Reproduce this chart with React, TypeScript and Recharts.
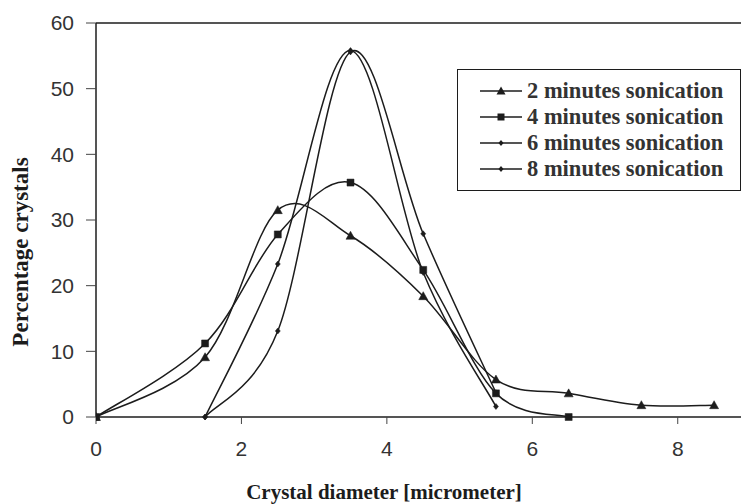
import { LineChart, Line, XAxis, YAxis, Legend, Label, ReferenceLine } from "recharts"

const diameters2 = [0, 1.5, 2.5, 3.5, 4.5, 5.5, 6.5, 7.5, 8.5]
const pct2 = [0, 9.1, 31.5, 27.6, 18.4, 5.7, 3.6, 1.8, 1.8]
const diameters4 = [0, 1.5, 2.5, 3.5, 4.5, 5.5, 6.5]
const pct4 = [0, 11.2, 27.8, 35.7, 22.4, 3.6, 0]
const diameters6 = [1.5, 2.5, 3.5, 4.5, 5.5]
const pct6 = [0, 23.3, 55.8, 22.0, 1.6]
const diameters8 = [1.5, 2.5, 3.5, 4.5, 5.5]
const pct8 = [0, 13.1, 55.6, 27.9, 3.7]

const xTicks = [0, 2, 4, 6, 8]
const yTicks = [0, 10, 20, 30, 40, 50, 60]

type Shape = "triangle" | "square" | "diamond"

const SERIES: { name: string; xs: number[]; ys: number[]; shape: Shape }[] = [
  { name: "2 minutes sonication", xs: diameters2, ys: pct2, shape: "triangle" },
  { name: "4 minutes sonication", xs: diameters4, ys: pct4, shape: "square" },
  { name: "6 minutes sonication", xs: diameters6, ys: pct6, shape: "diamond" },
  { name: "8 minutes sonication", xs: diameters8, ys: pct8, shape: "diamond" },
]

const INK = "#1c1c1c"
const SERIF = "Liberation Serif"
const SANS = "Liberation Sans"

// excel-style smoothed line (cardinal spline, tension 0)
function excelSmooth(context: any) {
  let pts: [number, number][] = []
  return {
    areaStart() {},
    areaEnd() {},
    lineStart() {
      pts = []
    },
    point(x: number, y: number) {
      pts.push([+x, +y])
    },
    lineEnd() {
      const n = pts.length
      if (!n) return
      context.moveTo(pts[0][0], pts[0][1])
      for (let i = 0; i < n - 1; i++) {
        const p0 = pts[i - 1] || pts[i]
        const p1 = pts[i]
        const p2 = pts[i + 1]
        const p3 = pts[i + 2] || p2
        context.bezierCurveTo(
          p1[0] + (p2[0] - p0[0]) / 6,
          p1[1] + (p2[1] - p0[1]) / 6,
          p2[0] - (p3[0] - p1[0]) / 6,
          p2[1] - (p3[1] - p1[1]) / 6,
          p2[0],
          p2[1]
        )
      }
    },
  }
}

function markerPath(shape: Shape, cx: number, cy: number) {
  if (shape === "triangle") return `M${cx},${cy - 4.5}L${cx + 4.5},${cy + 3.5}L${cx - 4.5},${cy + 3.5}Z`
  if (shape === "square") return `M${cx - 3.5},${cy - 3.5}h7v7h-7Z`
  return `M${cx},${cy - 3}L${cx + 2.5},${cy}L${cx},${cy + 3}L${cx - 2.5},${cy}Z`
}

function makeDot(shape: Shape) {
  return (props: any) => {
    const { cx, cy, index } = props
    if (cx == null || cy == null) return <g key={index} />
    return <path key={index} d={markerPath(shape, cx, cy)} fill={INK} stroke={INK} strokeWidth={0.5} />
  }
}

// only the bold serif face is installed here
function LegendBox() {
  return (
    <div
      style={{
        border: `1.5px solid ${INK}`,
        boxSizing: "border-box",
        height: 122,
        padding: "8px 0 0 22px",
        background: "#fff",
        fontFamily: SERIF,
        fontWeight: 700,
        fontSize: 22.5,
        color: "#333",
        whiteSpace: "nowrap",
      }}
    >
      {SERIES.map((s) => (
        <div key={s.name} style={{ display: "flex", alignItems: "center", height: 26 }}>
          <svg width={42} height={14} style={{ marginRight: 5 }}>
            <line x1={0} y1={7} x2={42} y2={7} stroke={INK} strokeWidth={1.5} />
            <path d={markerPath(s.shape, 21, 7)} fill={INK} />
          </svg>
          <span>{s.name}</span>
        </div>
      ))}
    </div>
  )
}

export default function App() {
  return (
    <div style={{ position: "absolute", left: 0, top: 0, background: "#fff" }}>
      <LineChart width={741} height={504} margin={{ top: 23, right: 0, bottom: 0, left: 0 }}>
        <XAxis
          type="number"
          dataKey="x"
          domain={[0, 8.87]}
          ticks={xTicks}
          allowDataOverflow
          height={87}
          axisLine={{ stroke: INK, strokeWidth: 1.5 }}
          tickLine={{ stroke: "#444" }}
          tickSize={7}
          tickMargin={17}
          tick={{ fill: "#333", fontSize: 21, fontFamily: SANS }}
        >
          <Label
            content={() => (
              <text x={384} y={499} textAnchor="middle" fontFamily={SERIF} fontWeight="bold" fontSize={21} fill={INK}>
                Crystal diameter [micrometer]
              </text>
            )}
          />
        </XAxis>
        <YAxis
          type="number"
          dataKey="y"
          domain={[0, 60]}
          ticks={yTicks}
          width={96}
          axisLine={{ stroke: INK, strokeWidth: 1.5 }}
          tickLine={{ stroke: "#444" }}
          tickSize={10}
          tickMargin={12}
          tick={{ fill: "#333", fontSize: 21, fontFamily: SANS }}
        >
          <Label
            content={() => (
              <text
                x={28}
                y={252}
                transform="rotate(-90 28 252)"
                textAnchor="middle"
                fontFamily={SERIF}
                fontWeight="bold"
                fontSize={23}
                fill={INK}
              >
                Percentage crystals
              </text>
            )}
          />
        </YAxis>
        <ReferenceLine y={60} stroke={INK} strokeWidth={1.5} />
        <Legend
          layout="horizontal"
          verticalAlign="middle"
          align="center"
          content={() => <LegendBox />}
          wrapperStyle={{ left: 457, top: 69, width: 284, height: 122 }}
        />
        {SERIES.map((s) => (
          <Line
            key={s.name}
            name={s.name}
            data={s.xs.map((x, i) => ({ x, y: s.ys[i] }))}
            dataKey="y"
            type={excelSmooth as any}
            stroke={INK}
            strokeWidth={1.5}
            dot={makeDot(s.shape)}
            activeDot={false}
            isAnimationActive={false}
          />
        ))}
      </LineChart>
    </div>
  )
}
